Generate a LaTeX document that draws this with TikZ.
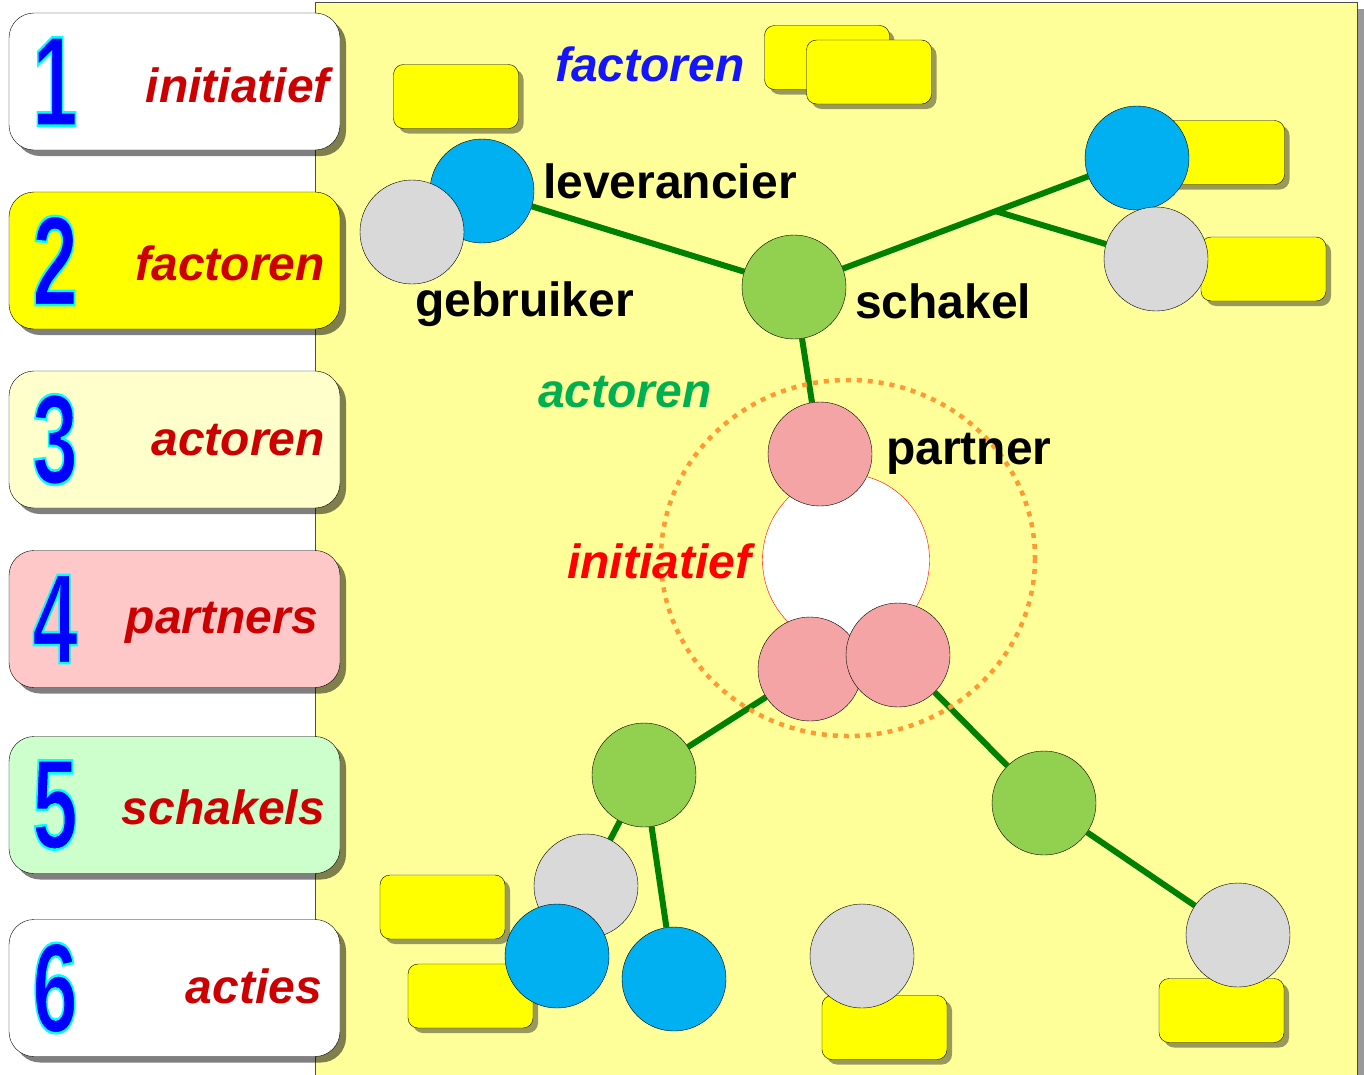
\documentclass[tikz,border=0pt]{standalone}
\usepackage{fontspec}
\setmainfont{Liberation Sans}
\usetikzlibrary{shadows,shapes.geometric}
\definecolor{panelyellow}{HTML}{FFFF99}
\definecolor{noteyellow}{HTML}{FFFF00}
\definecolor{boxcream}{HTML}{FFFFCC}
\definecolor{boxpink}{HTML}{FFC8C8}
\definecolor{boxgreen}{HTML}{CCFFCC}
\definecolor{labelred}{HTML}{CC0000}
\definecolor{digitblue}{HTML}{0000FF}
\definecolor{actorblue}{HTML}{00B0F0}
\definecolor{actorgray}{HTML}{D9D9D9}
\definecolor{actorgreen}{HTML}{92D050}
\definecolor{actorpink}{HTML}{F4A4A4}
\definecolor{linegreen}{HTML}{008000}
\definecolor{ringorange}{HTML}{FF9933}
\definecolor{wordgreen}{HTML}{00B050}
\definecolor{wordblue}{HTML}{1414FF}
\pgfdeclarelayer{back}
\pgfdeclarelayer{mid}
\pgfsetlayers{back,mid,main}
% digit with a cyan rim
\newcommand{\rimdigit}[1]{\special{pdf:literal direct 2 Tr 0 1 1 RG 2.5 w}%
  \scalebox{0.64}[1]{#1}\special{pdf:literal direct 0 Tr}}

\begin{document}
\begin{tikzpicture}
[x=1pt,y=-1pt,
  boxdecorate/.style={shape=rectangle,rounded corners=25pt,draw=black,
    minimum width=331pt,minimum height=137pt,inner sep=0pt,
    drop shadow={shadow xshift=6pt,shadow yshift=-6pt,fill=black,opacity=.5}},%
  notedecorate/.style={shape=rectangle,rounded corners=10pt,draw=black,
    fill=noteyellow,minimum width=125pt,minimum height=64pt,inner sep=0pt,
    drop shadow={shadow xshift=5pt,shadow yshift=-5pt,fill=black,opacity=.4}},%
  nodedecorate/.style={shape=circle,draw=black,inner sep=0pt,minimum size=104pt},%
  linedecorate/.style={-,draw=linegreen,line width=6pt},%
  digitdecorate/.style={inner sep=0pt,text=digitblue,
    font=\fontsize{128}{128}\selectfont\bfseries},%
  tabdecorate/.style={inner sep=0pt,anchor=base east,text=labelred,
    font=\fontsize{48}{48}\selectfont\bfseries\itshape},%
  worddecorate/.style={inner sep=0pt,anchor=base west,
    font=\fontsize{48}{48}\selectfont\bfseries},%
  slantdecorate/.style={inner sep=0pt,anchor=base west,
    font=\fontsize{48}{48}\selectfont\bfseries\itshape}]
\useasboundingbox (0,0) rectangle (1364,1074);
%% panel and notes
\begin{pgfonlayer}{back}
\draw[draw=black!70,fill=panelyellow,
  drop shadow={shadow xshift=7pt,shadow yshift=-7pt,fill=black,opacity=.4}]
  (315,2) rectangle (1357,1100);
\foreach \notename/\x/\y in {note1/456/96.5, note2/827/57.5, note3/869/72,
  note4/1222/152.5, note5/1263.5/269, note6/1221.5/1010.5, note7/884.5/1027.5,
  note8/442.5/907, note9/470.5/996}
{
  \node (\notename) at (\x,\y) [notedecorate] {};
}
\end{pgfonlayer}
%% steps on the left
\foreach \n/\y/\fillcolour/\word/\wx/\wy in {1/81.5/white/initiatief/330/102,
  2/260.5/noteyellow/factoren/325/280, 3/439.5/boxcream/actoren/325/455,
  4/619/boxpink/partners/318/633, 5/805/boxgreen/schakels/325/824,
  6/988/white/acties/322/1003}
{
  \node (box\n) at (174.5,\y) [boxdecorate,fill=\fillcolour] {};
  \node (digit\n) at (55,\y) [digitdecorate] {\rimdigit{\n}};
  \node (tab\n) at (\wx,\wy) [tabdecorate] {\word};
}
%% ring and core
\draw[ringorange,line width=4.5pt,dash pattern=on 5pt off 6pt]
  (848,558) ellipse [x radius=187,y radius=178];
\node (core) at (846,560) [shape=ellipse,draw=red,fill=white,inner sep=0pt,
  minimum width=167pt,minimum height=172pt] {};
%% actors
\foreach \nodename/\x/\y/\colour in {lev/482/191/actorblue, geb/412/232/actorgray,
  schakel/794/287/actorgreen, tblue/1137/158/actorblue, tgray/1156/259/actorgray,
  ptop/820/454/actorpink, pleft/810/669/actorpink, pright/898/655/actorpink,
  gleft/644/775/actorgreen, gright/1044/803/actorgreen, lgray/586/886/actorgray,
  lblue/557/956/actorblue, rblue/674/979/actorblue, mgray/862/956/actorgray,
  rgray/1238/935/actorgray}
{
  \node (\nodename) at (\x,\y) [nodedecorate,fill=\colour] {};
}
%% links
\begin{pgfonlayer}{mid}
\coordinate (fork) at (995,211);
\path
\foreach \startnode/\endnode in {schakel/lev, schakel/tblue, fork/tgray,
  schakel/ptop, pleft/gleft, pright/gright, gright/rgray, gleft/lgray, gleft/rblue} {
  (\startnode) edge[linedecorate] (\endnode)
};
\end{pgfonlayer}
%% words
\foreach \wordname/\x/\y/\word in {wlev/543/198/leverancier, wgeb/415/316/gebruiker,
  wschakel/855/318/schakel, wpartner/886/464/partner}
{
  \node (\wordname) at (\x,\y) [worddecorate] {\word};
}
\foreach \wordname/\x/\y/\colour/\word in {wfactoren/555/81/wordblue/factoren,
  wactoren/538/407/wordgreen/actoren, winitiatief/567/578/red/initiatief}
{
  \node (\wordname) at (\x,\y) [slantdecorate,text=\colour] {\word};
}
\end{tikzpicture}
\end{document}
